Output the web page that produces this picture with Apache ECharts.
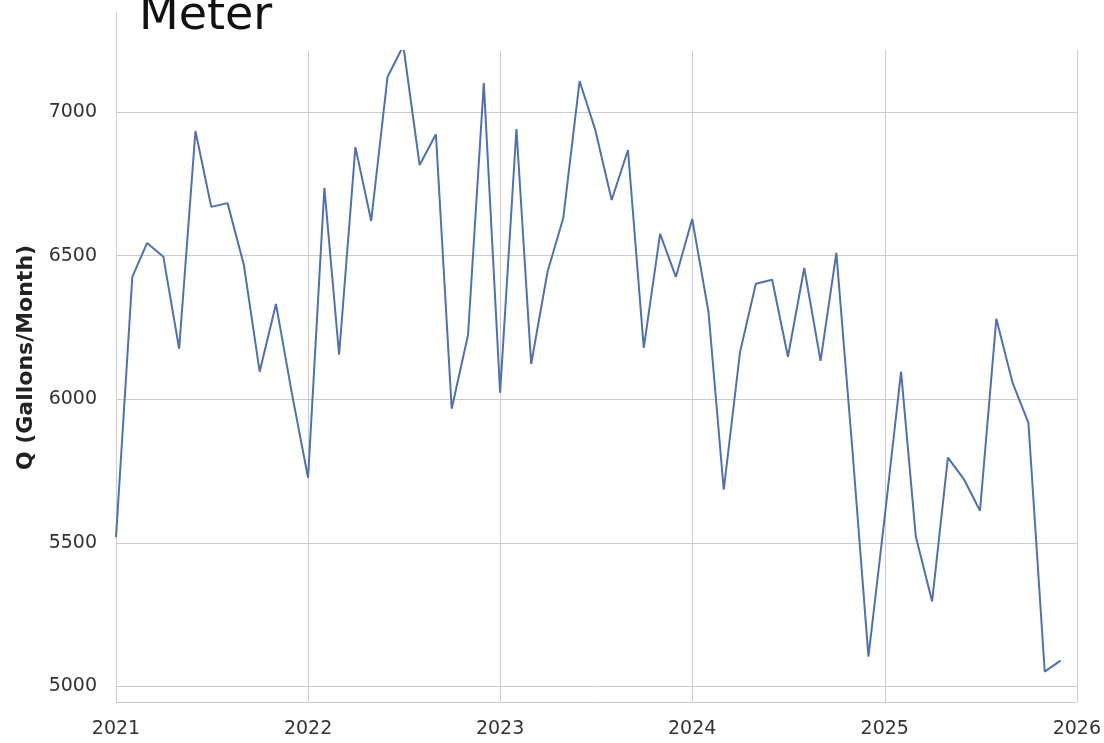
<!DOCTYPE html>
<html>
<head>
<meta charset="utf-8">
<script src="https://cdn.jsdelivr.net/npm/echarts@6/dist/echarts.min.js"></script>
<style>
  html, body { margin: 0; padding: 0; background: #fff; }
  #chart { width: 1104px; height: 743px; }
</style>
</head>
<body>
<div id="chart"></div>
<script>
// monthly readings, Jan 2021 .. Dec 2025
var months = [
  '2021-01-01','2021-02-01','2021-03-01','2021-04-01','2021-05-01','2021-06-01',
  '2021-07-01','2021-08-01','2021-09-01','2021-10-01','2021-11-01','2021-12-01',
  '2022-01-01','2022-02-01','2022-03-01','2022-04-01','2022-05-01','2022-06-01',
  '2022-07-01','2022-08-01','2022-09-01','2022-10-01','2022-11-01','2022-12-01',
  '2023-01-01','2023-02-01','2023-03-01','2023-04-01','2023-05-01','2023-06-01',
  '2023-07-01','2023-08-01','2023-09-01','2023-10-01','2023-11-01','2023-12-01',
  '2024-01-01','2024-02-01','2024-03-01','2024-04-01','2024-05-01','2024-06-01',
  '2024-07-01','2024-08-01','2024-09-01','2024-10-01','2024-11-01','2024-12-01',
  '2025-01-01','2025-02-01','2025-03-01','2025-04-01','2025-05-01','2025-06-01',
  '2025-07-01','2025-08-01','2025-09-01','2025-10-01','2025-11-01','2025-12-01'
];
var flow = [
  5520, 6426, 6544, 6496, 6176, 6934, 6670, 6683, 6468, 6096, 6332, 6023,
  5727, 6736, 6155, 6878, 6621, 7122, 7231, 6816, 6923, 5967, 6224, 7101,
  6023, 6941, 6123, 6443, 6631, 7108, 6937, 6694, 6868, 6179, 6576, 6426,
  6628, 6304, 5685, 6165, 6402, 6416, 6148, 6457, 6134, 6510, 5812, 5104,
  5592, 6096, 5522, 5296, 5797, 5720, 5612, 6280, 6057, 5918, 5052, 5090
];
var yMin = 4946, yMax = 7345;

var chart = echarts.init(document.getElementById('chart'));
var gridColor = '#cccccc';
var textColor = '#333333';

chart.setOption({
  animation: false,
  grid: { left: 116, right: 26, top: 13, bottom: 41, containLabel: false },
  xAxis: {
    type: 'time',
    min: '2021-01-01',
    max: '2026-01-01',
    splitNumber: 5,
    axisLine: { show: true, lineStyle: { color: gridColor, width: 1 } },
    axisTick: { show: false },
    axisLabel: {
      formatter: '{yyyy}',
      color: textColor, fontSize: 19, fontFamily: 'DejaVu Sans',
      margin: 18, showMinLabel: true, showMaxLabel: true
    },
    splitLine: { show: true, lineStyle: { color: gridColor, width: 1 } }
  },
  yAxis: {
    type: 'value',
    min: yMin,
    max: yMax,
    splitNumber: 5,
    name: 'Q (Gallons/Month)',
    nameLocation: 'middle',
    nameGap: 75,
    nameTextStyle: { color: '#222', fontSize: 22, fontWeight: 'bold', fontFamily: 'DejaVu Sans' },
    axisLine: { show: true, lineStyle: { color: gridColor, width: 1 } },
    axisTick: { show: false },
    axisLabel: {
      color: textColor, fontSize: 19, fontFamily: 'DejaVu Sans', margin: 19,
      showMinLabel: false, showMaxLabel: false,
      formatter: function (v) { return v % 500 === 0 ? String(v) : ''; }
    },
    splitLine: { show: true, lineStyle: { color: gridColor, width: 1 } }
  },
  series: [{
    type: 'line',
    data: months.map(function (m, i) { return [m, flow[i]]; }),
    showSymbol: false,
    lineStyle: { color: '#4c72b0', width: 2 },
    itemStyle: { color: '#4c72b0' }
  }],
  graphic: [
    { type: 'rect', left: 117, top: 0, z: 100,
      shape: { width: 1104 - 117, height: 50 },
      style: { fill: '#ffffff' } },
    { type: 'text', left: 139, top: -6, z: 101,
      style: { text: 'Meter', fontSize: 46, fontFamily: 'DejaVu Sans', fill: '#111' } }
  ]
});
</script>
</body>
</html>
